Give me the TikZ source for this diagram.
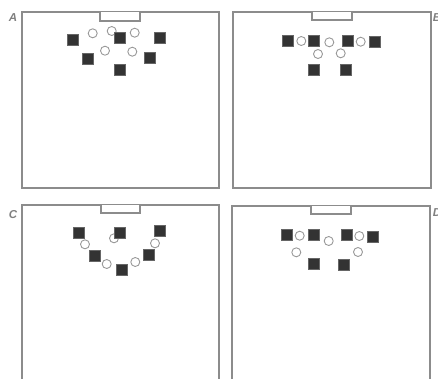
\documentclass[tikz,border=0pt]{standalone}
\usepackage{fontspec}
\setmainfont{Liberation Sans}
\begin{document}
\begin{tikzpicture}[x=1pt,y=-1pt,
  frame/.style={draw=black!45,line width=1.3pt},
  goal/.style={draw=black!45,line width=1.1pt,fill=white},
  pl/.style={draw=black!60,fill=black!80,line width=0.6pt,minimum size=11pt,inner sep=0pt,shape=rectangle},
  op/.style={draw=black!40,fill=white,line width=0.9pt,minimum size=9pt,inner sep=0pt,shape=circle},
  lab/.style={text=black!50,font=\bfseries\itshape\fontsize{11.5}{11.5}\selectfont,inner sep=0pt}]
\useasboundingbox (0,0) rectangle (438,378);
% Panel A
\draw[frame] (22,12) rectangle (219,188);
\draw[goal] (100,12) -- (100,21) -- (140,21) -- (140,12);
\node[lab] (lA) at (13,18) {A};
\node[op] (a1) at (92.7,33.3) {};
\node[op] (a2) at (111.7,31) {};
\node[op] (a3) at (134.7,32.7) {};
\node[op] (a4) at (105,50.7) {};
\node[op] (a5) at (132.3,51.7) {};
\node[pl] (A1) at (72.7,40) {};
\node[pl] (A2) at (119.3,37.7) {};
\node[pl] (A3) at (159.3,37.7) {};
\node[pl] (A4) at (88,58.3) {};
\node[pl] (A5) at (149.7,57.3) {};
\node[pl] (A6) at (119.3,69.7) {};
% Panel B
\draw[frame] (233,12) rectangle (431,188);
\draw[goal] (312,12) -- (312,20) -- (352,20) -- (352,12);
\node[lab] (lB) at (437,18) {B};
\node[op] (b1) at (301.3,41) {};
\node[op] (b2) at (329.3,42.3) {};
\node[op] (b3) at (360.7,41.7) {};
\node[op] (b4) at (318,54) {};
\node[op] (b5) at (340.7,53.3) {};
\node[pl] (B1) at (287.3,40.7) {};
\node[pl] (B2) at (314,40.7) {};
\node[pl] (B3) at (348,40.7) {};
\node[pl] (B4) at (374.7,41.7) {};
\node[pl] (B5) at (314,69.3) {};
\node[pl] (B6) at (345.3,69.3) {};
% Panel C
\draw[frame] (22,382) -- (22,205) -- (219,205) -- (219,382);
\draw[goal] (101,205) -- (101,213) -- (140,213) -- (140,205);
\node[lab] (lC) at (13,215) {C};
\node[op] (c1) at (85,244.3) {};
\node[op] (c2) at (114,238.3) {};
\node[op] (c3) at (155,243.3) {};
\node[op] (c4) at (106.7,264) {};
\node[op] (c5) at (135.3,262) {};
\node[pl] (C1) at (78.3,232.3) {};
\node[pl] (C2) at (120,232.3) {};
\node[pl] (C3) at (160,230.7) {};
\node[pl] (C4) at (94.3,256) {};
\node[pl] (C5) at (148.7,254.3) {};
\node[pl] (C6) at (121.7,270) {};
% Panel D
\draw[frame] (232,382) -- (232,206) -- (430,206) -- (430,382);
\draw[goal] (311,206) -- (311,214) -- (351,214) -- (351,206);
\node[lab] (lD) at (437,213) {D};
\node[op] (d1) at (299.7,235.7) {};
\node[op] (d2) at (328.7,241) {};
\node[op] (d3) at (359.3,236) {};
\node[op] (d4) at (296.3,252.3) {};
\node[op] (d5) at (358,252) {};
\node[pl] (D1) at (286.3,235) {};
\node[pl] (D2) at (313.3,235) {};
\node[pl] (D3) at (346.3,235) {};
\node[pl] (D4) at (373,236.7) {};
\node[pl] (D5) at (313.3,263.3) {};
\node[pl] (D6) at (343.7,264.3) {};
\end{tikzpicture}
\end{document}
